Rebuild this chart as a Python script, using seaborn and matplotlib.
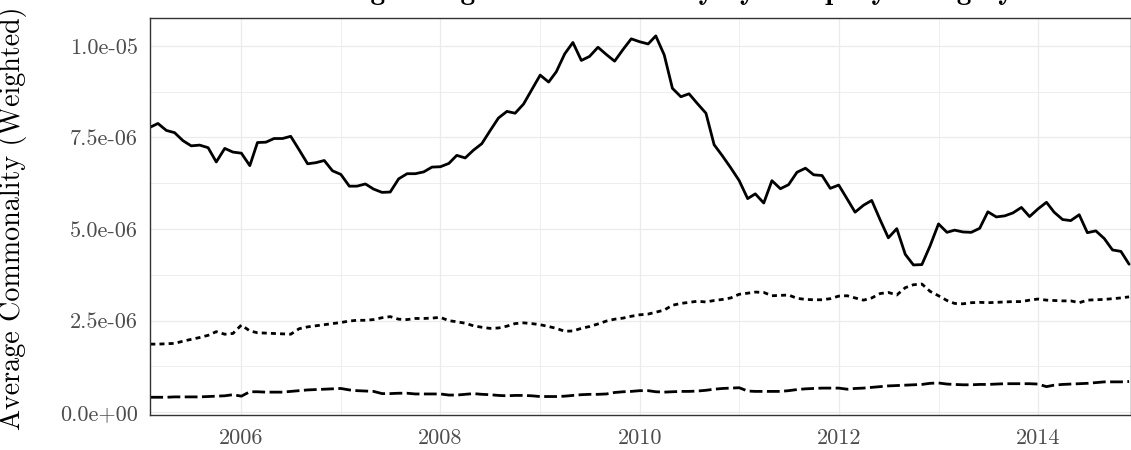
import numpy as np
import pandas as pd
import matplotlib
matplotlib.use('Agg')
import matplotlib.pyplot as plt
import matplotlib.dates as mdates
from matplotlib.ticker import FixedLocator, FuncFormatter
import seaborn as sns

# Monthly observations, Feb 2005 - Dec 2014 (values in units of 1e-6)
months = pd.date_range("2005-02-01", "2014-12-01", freq="MS")

solid_vals = [
    7.78, 7.88, 7.69, 7.63, 7.41, 7.27, 7.29, 7.22, 6.83, 7.20,
    7.10, 7.07, 6.73, 7.36, 7.37, 7.47, 7.47, 7.53, 7.16, 6.78,
    6.81, 6.87, 6.59, 6.49, 6.17, 6.17, 6.23, 6.09, 6.00, 6.01,
    6.37, 6.51, 6.51, 6.56, 6.69, 6.70, 6.79, 7.01, 6.94, 7.15,
    7.33, 7.68, 8.03, 8.21, 8.16, 8.41, 8.80, 9.20, 9.01, 9.29,
    9.78, 10.09, 9.60, 9.71, 9.96, 9.76, 9.58, 9.90, 10.19, 10.11,
    10.05, 10.27, 9.75, 8.84, 8.61, 8.69, 8.42, 8.16, 7.30, 6.99,
    6.67, 6.32, 5.83, 5.96, 5.71, 6.32, 6.10, 6.21, 6.55, 6.66,
    6.48, 6.46, 6.11, 6.20, 5.82, 5.46, 5.65, 5.78, 5.25, 4.76,
    5.01, 4.31, 4.02, 4.03, 4.54, 5.14, 4.91, 4.97, 4.92, 4.91,
    5.02, 5.47, 5.33, 5.36, 5.44, 5.59, 5.34, 5.55, 5.73, 5.46,
    5.26, 5.23, 5.39, 4.90, 4.95, 4.74, 4.43, 4.39, 4.04,
]

dotted_vals = [
    1.86, 1.86, 1.87, 1.88, 1.94, 1.99, 2.04, 2.10, 2.20, 2.13,
    2.15, 2.38, 2.22, 2.17, 2.16, 2.15, 2.14, 2.13, 2.28, 2.33,
    2.36, 2.39, 2.42, 2.45, 2.49, 2.51, 2.51, 2.53, 2.58, 2.61,
    2.54, 2.53, 2.56, 2.56, 2.57, 2.59, 2.50, 2.47, 2.43, 2.36,
    2.32, 2.29, 2.30, 2.35, 2.42, 2.44, 2.42, 2.39, 2.34, 2.29,
    2.21, 2.22, 2.29, 2.34, 2.41, 2.49, 2.54, 2.57, 2.62, 2.66,
    2.68, 2.73, 2.79, 2.92, 2.97, 3.00, 3.03, 3.01, 3.05, 3.08,
    3.12, 3.22, 3.25, 3.28, 3.27, 3.18, 3.19, 3.20, 3.11, 3.08,
    3.07, 3.07, 3.10, 3.17, 3.18, 3.12, 3.06, 3.12, 3.24, 3.27,
    3.20, 3.40, 3.48, 3.50, 3.30, 3.18, 3.05, 2.97, 2.96, 2.99,
    3.00, 2.99, 3.00, 3.01, 3.02, 3.02, 3.06, 3.09, 3.06, 3.05,
    3.04, 3.04, 2.99, 3.06, 3.07, 3.08, 3.10, 3.12, 3.15,
]

dashed_vals = [
    0.41, 0.41, 0.41, 0.42, 0.42, 0.42, 0.42, 0.43, 0.44, 0.45,
    0.48, 0.44, 0.56, 0.56, 0.55, 0.55, 0.55, 0.57, 0.59, 0.61,
    0.62, 0.63, 0.64, 0.65, 0.61, 0.59, 0.58, 0.57, 0.51, 0.51,
    0.52, 0.52, 0.50, 0.50, 0.50, 0.50, 0.47, 0.47, 0.49, 0.51,
    0.49, 0.48, 0.46, 0.45, 0.46, 0.46, 0.45, 0.43, 0.43, 0.43,
    0.44, 0.46, 0.48, 0.49, 0.49, 0.50, 0.54, 0.56, 0.57, 0.59,
    0.59, 0.56, 0.55, 0.56, 0.57, 0.57, 0.58, 0.60, 0.63, 0.65,
    0.66, 0.67, 0.58, 0.57, 0.57, 0.57, 0.57, 0.59, 0.62, 0.64,
    0.65, 0.66, 0.66, 0.66, 0.63, 0.65, 0.66, 0.68, 0.70, 0.72,
    0.73, 0.74, 0.75, 0.76, 0.79, 0.80, 0.77, 0.76, 0.75, 0.75,
    0.76, 0.76, 0.77, 0.78, 0.78, 0.78, 0.78, 0.77, 0.70, 0.74,
    0.76, 0.77, 0.78, 0.79, 0.81, 0.83, 0.83, 0.83, 0.84,
]

series_names = ["High", "Medium", "Low"]
y_ticks = [0.0, 2.5e-6, 5.0e-6, 7.5e-6, 1.0e-5]
y_minor = [1.25e-6, 3.75e-6, 6.25e-6, 8.75e-6]
x_years = [2006, 2008, 2010, 2012, 2014]
x_minor_years = [2007, 2009, 2011, 2013]

df = pd.concat([
    pd.DataFrame({"month": months, "value": np.array(v) * 1e-6, "group": name})
    for name, v in zip(series_names, [solid_vals, dotted_vals, dashed_vals])
])

sns.set_theme(style="white")
plt.rcParams['font.family'] = ['cmr10', 'DejaVu Serif']
plt.rcParams['axes.formatter.use_mathtext'] = True

fig = plt.figure(figsize=(11.31, 4.5), dpi=100)
ax = fig.add_axes([150.3 / 1131, 1 - 415 / 450, 1 - 150.3 / 1131, (415 - 18.3) / 450])

sns.lineplot(
    data=df, x="month", y="value", style="group",
    dashes={"High": "", "Medium": (1.8, 1.5), "Low": (4.6, 1.6)},
    color="black", linewidth=2.0, legend=False, ax=ax,
)

ax.set_xlim(pd.Timestamp("2005-02-01"), pd.Timestamp("2014-12-08"))
ax.set_ylim(-0.074e-6, 10.75e-6)

# ggplot-ish grid: majors + minors in light grey
ax.xaxis.set_major_locator(FixedLocator([mdates.date2num(pd.Timestamp(f"{y}-01-01")) for y in x_years]))
ax.xaxis.set_minor_locator(FixedLocator([mdates.date2num(pd.Timestamp(f"{y}-01-01")) for y in x_minor_years]))
ax.xaxis.set_major_formatter(FuncFormatter(lambda v, p: str(mdates.num2date(v).year)))
ax.yaxis.set_major_locator(FixedLocator(y_ticks))
ax.yaxis.set_minor_locator(FixedLocator(y_minor))
ax.yaxis.set_major_formatter(FuncFormatter(lambda v, p: f"{v:.1e}"))

ax.grid(which="major", color="#EBEBEB", linewidth=0.9)
ax.grid(which="minor", color="#EBEBEB", linewidth=0.6)
ax.set_axisbelow(True)

ax.tick_params(axis="both", which="major", length=5, width=0.8, color="#333333",
               labelcolor="#4D4D4D", labelsize=16, pad=4)
ax.tick_params(axis="both", which="minor", length=0)
ax.tick_params(axis="x", pad=5)
for s in ax.spines.values():
    s.set_color("#333333")
    s.set_linewidth(1.0)

ax.set_xlabel("")
ax.set_ylabel("Average Commonality (Weighted)", fontsize=20.2, color="black")
ax.yaxis.set_label_coords(-(150.3 - 27) / (1131 - 150.3), 0.497)

# title sits mostly above the canvas, only descenders show
fig.text(293 / 1131, 1 + 1 / 450, "Average Weighted Commonality by Company Category",
         family="cmb10", fontsize=21, ha="left", va="baseline", color="black")

fig.savefig("out.png", dpi=100)
